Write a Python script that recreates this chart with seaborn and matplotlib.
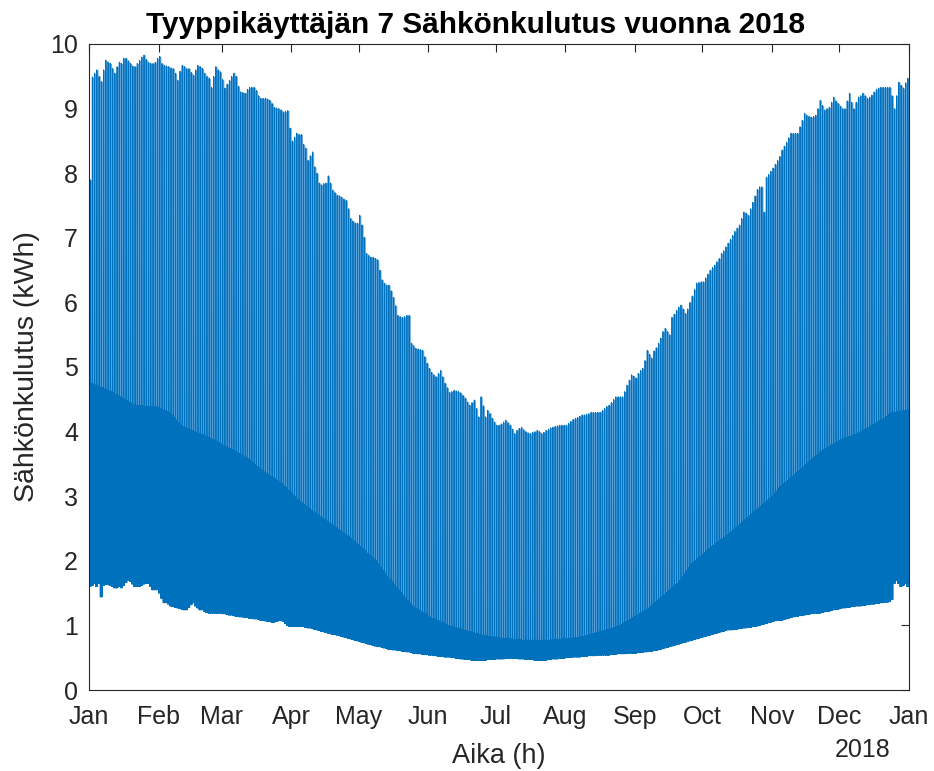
import numpy as np
import pandas as pd
import matplotlib
matplotlib.use("Agg")
import matplotlib.pyplot as plt
import seaborn as sns

# ---- data (daily levels, kWh) ----
# daily maximum (upper envelope of the spikes)
daily_peak = [
    7.9, 9.49, 9.55, 9.6, 9.5, 9.42, 9.6,
    9.75, 9.72, 9.7, 9.62, 9.55, 9.65, 9.72,
    9.7, 9.78, 9.78, 9.74, 9.7, 9.66, 9.65,
    9.7, 9.75, 9.8, 9.83, 9.76, 9.72, 9.7,
    9.7, 9.72, 9.78, 9.81, 9.7, 9.67, 9.66,
    9.65, 9.63, 9.62, 9.55, 9.44, 9.58, 9.67,
    9.65, 9.62, 9.62, 9.56, 9.52, 9.6, 9.67,
    9.65, 9.62, 9.55, 9.5, 9.47, 9.33, 9.5,
    9.65, 9.6, 9.57, 9.45, 9.32, 9.38, 9.44,
    9.5, 9.55, 9.5, 9.35, 9.26, 9.25, 9.24,
    9.3, 9.33, 9.33, 9.33, 9.28, 9.2, 9.16,
    9.16, 9.16, 9.15, 9.13, 9.08, 9.02, 9.01,
    9.0, 8.98, 8.95, 8.96, 8.97, 8.7, 8.5,
    8.56, 8.62, 8.6, 8.6, 8.45, 8.39, 8.2,
    8.27, 8.33, 8.1, 8.0, 7.85, 7.82, 7.84,
    7.85, 7.96, 7.85, 7.74, 7.7, 7.66, 7.65,
    7.63, 7.6, 7.58, 7.45, 7.3, 7.26, 7.23,
    7.23, 7.35, 7.2, 7.01, 6.76, 6.73, 6.7,
    6.7, 6.68, 6.66, 6.5, 6.35, 6.3, 6.27,
    6.27, 6.18, 6.08, 5.95, 5.8, 5.78, 5.77,
    5.78, 5.8, 5.8, 5.37, 5.33, 5.29, 5.28,
    5.27, 5.26, 5.16, 5.06, 4.98, 4.92, 4.88,
    4.85, 4.9, 4.95, 4.85, 4.75, 4.68, 4.61,
    4.62, 4.64, 4.63, 4.62, 4.6, 4.56, 4.52,
    4.46, 4.41, 4.45, 4.49, 4.36, 4.23, 4.54,
    4.4, 4.23, 4.33, 4.28, 4.21, 4.15, 4.1,
    4.1, 4.12, 4.15, 4.18, 4.14, 4.1, 4.04,
    3.97, 4.02, 4.05, 4.07, 4.03, 4.0, 3.98,
    3.97, 3.99, 4.0, 4.02, 4.0, 3.97, 3.99,
    4.02, 4.04, 4.06, 4.07, 4.08, 4.09, 4.1,
    4.1, 4.1, 4.1, 4.13, 4.16, 4.19, 4.21,
    4.22, 4.24, 4.26, 4.26, 4.27, 4.28, 4.3,
    4.3, 4.3, 4.3, 4.3, 4.33, 4.36, 4.39,
    4.41, 4.45, 4.5, 4.54, 4.54, 4.54, 4.54,
    4.62, 4.72, 4.8, 4.88, 4.86, 4.83, 4.9,
    4.95, 4.98, 5.1, 5.26, 5.2, 5.14, 5.25,
    5.3, 5.37, 5.45, 5.55, 5.6, 5.55, 5.5,
    5.77, 5.82, 5.88, 5.93, 5.96, 5.9, 5.83,
    5.9, 6.0, 6.1, 6.2, 6.3, 6.31, 6.32,
    6.32, 6.38, 6.44, 6.5, 6.54, 6.58, 6.63,
    6.68, 6.76, 6.8, 6.86, 6.92, 6.98, 7.04,
    7.1, 7.15, 7.2, 7.3, 7.4, 7.38, 7.35,
    7.45, 7.55, 7.65, 7.75, 7.79, 7.79, 7.4,
    7.94, 7.98, 8.03, 8.08, 8.14, 8.2, 8.26,
    8.36, 8.42, 8.48, 8.55, 8.62, 8.62, 8.62,
    8.62, 8.72, 8.82, 8.93, 8.9, 8.88, 8.87,
    8.88, 8.9, 9.0, 9.13, 9.05, 8.98, 9.0,
    9.02, 9.1, 9.18, 9.12, 9.08, 9.04, 9.0,
    9.0, 9.12, 9.24, 9.1, 9.0, 9.1, 9.18,
    9.2, 9.24, 9.2, 9.16, 9.18, 9.21, 9.26,
    9.3, 9.32, 9.33, 9.33, 9.33, 9.33, 9.33,
    9.2, 9.0, 9.2, 9.41, 9.36, 9.32, 9.4,
    9.47,
]

# typical daytime level (top of the dense band)
daily_base = [
    4.75, 4.74, 4.72, 4.71, 4.69, 4.68, 4.66,
    4.65, 4.63, 4.62, 4.6, 4.58, 4.56, 4.54,
    4.52, 4.5, 4.48, 4.46, 4.44, 4.42, 4.4,
    4.4, 4.4, 4.4, 4.39, 4.39, 4.39, 4.39,
    4.38, 4.38, 4.38, 4.36, 4.34, 4.33, 4.31,
    4.3, 4.26, 4.22, 4.18, 4.14, 4.1, 4.08,
    4.07, 4.05, 4.04, 4.02, 4.0, 3.99, 3.97,
    3.96, 3.95, 3.93, 3.92, 3.9, 3.88, 3.87,
    3.85, 3.83, 3.81, 3.79, 3.77, 3.75, 3.74,
    3.72, 3.7, 3.68, 3.66, 3.64, 3.62, 3.6,
    3.58, 3.55, 3.52, 3.49, 3.46, 3.44, 3.41,
    3.38, 3.36, 3.34, 3.31, 3.29, 3.27, 3.24,
    3.22, 3.2, 3.16, 3.13, 3.09, 3.06, 3.02,
    2.99, 2.95, 2.92, 2.9, 2.87, 2.84, 2.82,
    2.79, 2.76, 2.74, 2.72, 2.69, 2.67, 2.64,
    2.62, 2.59, 2.57, 2.54, 2.52, 2.49, 2.47,
    2.44, 2.42, 2.39, 2.37, 2.34, 2.31, 2.28,
    2.25, 2.22, 2.19, 2.16, 2.12, 2.09, 2.06,
    2.03, 2.0, 1.95, 1.9, 1.85, 1.81, 1.76,
    1.72, 1.68, 1.64, 1.59, 1.55, 1.51, 1.47,
    1.43, 1.39, 1.35, 1.31, 1.28, 1.26, 1.24,
    1.22, 1.2, 1.18, 1.15, 1.13, 1.11, 1.1,
    1.08, 1.07, 1.05, 1.04, 1.02, 1.0, 0.99,
    0.98, 0.97, 0.96, 0.95, 0.94, 0.93, 0.92,
    0.91, 0.9, 0.89, 0.88, 0.87, 0.86, 0.85,
    0.84, 0.84, 0.83, 0.83, 0.82, 0.82, 0.81,
    0.81, 0.8, 0.8, 0.8, 0.79, 0.79, 0.78,
    0.78, 0.78, 0.78, 0.77, 0.77, 0.77, 0.77,
    0.77, 0.77, 0.77, 0.77, 0.77, 0.77, 0.77,
    0.77, 0.77, 0.77, 0.78, 0.78, 0.78, 0.78,
    0.79, 0.79, 0.79, 0.8, 0.8, 0.8, 0.81,
    0.81, 0.82, 0.82, 0.83, 0.84, 0.85, 0.86,
    0.87, 0.88, 0.89, 0.9, 0.91, 0.92, 0.93,
    0.94, 0.95, 0.96, 0.97, 0.99, 1.0, 1.02,
    1.04, 1.06, 1.08, 1.1, 1.12, 1.14, 1.16,
    1.18, 1.2, 1.22, 1.24, 1.27, 1.3, 1.33,
    1.36, 1.39, 1.42, 1.45, 1.48, 1.51, 1.54,
    1.57, 1.6, 1.63, 1.65, 1.7, 1.75, 1.8,
    1.85, 1.9, 1.95, 1.98, 2.01, 2.04, 2.07,
    2.1, 2.13, 2.16, 2.19, 2.22, 2.24, 2.27,
    2.3, 2.33, 2.35, 2.37, 2.4, 2.43, 2.46,
    2.49, 2.52, 2.55, 2.58, 2.61, 2.64, 2.67,
    2.7, 2.73, 2.76, 2.79, 2.82, 2.85, 2.88,
    2.91, 2.94, 2.97, 3.0, 3.04, 3.08, 3.13,
    3.16, 3.19, 3.22, 3.25, 3.28, 3.31, 3.34,
    3.37, 3.4, 3.43, 3.46, 3.49, 3.52, 3.55,
    3.58, 3.61, 3.64, 3.67, 3.7, 3.72, 3.74,
    3.76, 3.78, 3.8, 3.82, 3.84, 3.86, 3.88,
    3.9, 3.91, 3.92, 3.93, 3.94, 3.96, 3.97,
    3.99, 4.01, 4.03, 4.05, 4.07, 4.09, 4.11,
    4.13, 4.15, 4.17, 4.19, 4.21, 4.24, 4.27,
    4.29, 4.3, 4.3, 4.31, 4.31, 4.32, 4.32,
    4.33,
]

# daily minimum (lower envelope)
daily_min = [
    1.6, 1.62, 1.65, 1.6, 1.65, 1.44, 1.62,
    1.63, 1.63, 1.62, 1.6, 1.58, 1.58, 1.6,
    1.58, 1.62, 1.66, 1.7, 1.68, 1.64, 1.6,
    1.6, 1.6, 1.62, 1.64, 1.65, 1.65, 1.6,
    1.55, 1.55, 1.55, 1.5, 1.42, 1.35, 1.35,
    1.33, 1.3, 1.29, 1.28, 1.27, 1.26, 1.25,
    1.24, 1.24, 1.28, 1.32, 1.35, 1.3, 1.27,
    1.24, 1.24, 1.22, 1.2, 1.19, 1.19, 1.19,
    1.19, 1.19, 1.19, 1.18, 1.18, 1.17, 1.16,
    1.16, 1.15, 1.14, 1.14, 1.13, 1.13, 1.12,
    1.12, 1.11, 1.11, 1.1, 1.1, 1.09, 1.08,
    1.08, 1.07, 1.06, 1.06, 1.05, 1.05, 1.06,
    1.07, 1.08, 1.06, 1.03, 1.0, 0.98, 0.98,
    0.98, 0.98, 0.98, 0.98, 0.98, 0.97, 0.96,
    0.96, 0.95, 0.94, 0.93, 0.92, 0.91, 0.9,
    0.89, 0.88, 0.87, 0.86, 0.86, 0.85, 0.84,
    0.83, 0.82, 0.81, 0.8, 0.79, 0.78, 0.77,
    0.76, 0.75, 0.74, 0.73, 0.72, 0.71, 0.7,
    0.69, 0.68, 0.67, 0.67, 0.66, 0.65, 0.64,
    0.63, 0.63, 0.62, 0.62, 0.61, 0.61, 0.6,
    0.6, 0.59, 0.59, 0.58, 0.57, 0.57, 0.56,
    0.56, 0.55, 0.55, 0.55, 0.54, 0.54, 0.53,
    0.53, 0.52, 0.52, 0.52, 0.51, 0.51, 0.51,
    0.5, 0.5, 0.49, 0.49, 0.48, 0.48, 0.47,
    0.47, 0.47, 0.46, 0.46, 0.46, 0.46, 0.46,
    0.46, 0.46, 0.47, 0.47, 0.47, 0.47, 0.48,
    0.48, 0.48, 0.48, 0.49, 0.49, 0.49, 0.49,
    0.49, 0.49, 0.48, 0.48, 0.48, 0.47, 0.47,
    0.47, 0.47, 0.46, 0.46, 0.46, 0.46, 0.46,
    0.46, 0.47, 0.47, 0.48, 0.48, 0.48, 0.49,
    0.49, 0.49, 0.5, 0.5, 0.5, 0.51, 0.51,
    0.51, 0.51, 0.52, 0.52, 0.52, 0.53, 0.53,
    0.53, 0.53, 0.54, 0.54, 0.54, 0.54, 0.54,
    0.54, 0.55, 0.55, 0.55, 0.56, 0.56, 0.56,
    0.56, 0.57, 0.57, 0.57, 0.57, 0.57, 0.58,
    0.58, 0.58, 0.59, 0.59, 0.6, 0.6, 0.61,
    0.61, 0.62, 0.63, 0.64, 0.65, 0.66, 0.67,
    0.68, 0.69, 0.7, 0.71, 0.72, 0.73, 0.74,
    0.75, 0.76, 0.77, 0.78, 0.79, 0.8, 0.81,
    0.82, 0.83, 0.84, 0.85, 0.86, 0.87, 0.88,
    0.89, 0.9, 0.91, 0.92, 0.93, 0.93, 0.93,
    0.94, 0.94, 0.95, 0.95, 0.96, 0.96, 0.97,
    0.97, 0.98, 0.98, 0.99, 1.0, 1.01, 1.02,
    1.03, 1.04, 1.05, 1.06, 1.07, 1.08, 1.08,
    1.08, 1.09, 1.1, 1.11, 1.12, 1.13, 1.14,
    1.14, 1.15, 1.15, 1.16, 1.17, 1.17, 1.18,
    1.18, 1.19, 1.19, 1.19, 1.2, 1.21, 1.22,
    1.22, 1.23, 1.24, 1.25, 1.25, 1.26, 1.27,
    1.27, 1.28, 1.28, 1.29, 1.29, 1.3, 1.3,
    1.3, 1.31, 1.31, 1.32, 1.32, 1.33, 1.33,
    1.34, 1.34, 1.35, 1.35, 1.36, 1.36, 1.37,
    1.4, 1.65, 1.7, 1.65, 1.6, 1.62, 1.65,
    1.6,
]

month_labels = ["Jan", "Feb", "Mar", "Apr", "May", "Jun", "Jul",
                "Aug", "Sep", "Oct", "Nov", "Dec", "Jan"]
year_label = "2018"
title_text = "Tyyppikäyttäjän 7 Sähkönkulutus vuonna 2018"
x_label = "Aika (h)"
y_label = "Sähkönkulutus (kWh)"

# order in which the daily levels are visited within one day
day_sequence = ["min", "base", "min", "base", "min", "base",
                "peak", "base", "min", "base", "min", "base"]

levels = {"peak": daily_peak, "base": daily_base, "min": daily_min}
start = pd.Timestamp("2018-01-01")
times, values = [], []
n_steps = len(day_sequence)
for d in range(len(daily_peak)):
    for k, lvl in enumerate(day_sequence):
        times.append(start + pd.Timedelta(days=d + k / n_steps))
        values.append(levels[lvl][d])
df = pd.DataFrame({"Aika": times, "kWh": values})

# daily table for the lighter spike zone between base level and daily peak
day_start = pd.date_range("2018-01-01", periods=len(daily_peak) + 1, freq="D")
zone_low = list(daily_base) + [daily_base[-1]]
zone_high = list(daily_peak) + [daily_peak[-1]]

# ---- plotting ----
sns.set_style("white")
plt.rcParams["font.family"] = ["Liberation Sans", "DejaVu Sans"]
text_col = "#262626"

fig = plt.figure(figsize=(9.34, 7.71), dpi=100)
ax = fig.add_axes([89 / 934, 81 / 771, 820 / 934, 646 / 771])

ax.fill_between(day_start, zone_low, zone_high, step="post",
                color="#5AA3DB", linewidth=0, zorder=1)
sns.lineplot(data=df, x="Aika", y="kWh", ax=ax, color="#0072BD",
             linewidth=0.6, estimator=None, sort=False, zorder=2)

month_starts = pd.date_range("2018-01-01", "2019-01-01", freq="MS")
ax.set_xlim(month_starts[0], month_starts[-1])
ax.set_xticks(month_starts)
ax.set_xticklabels(month_labels)
ax.set_ylim(0, 10)
ax.set_yticks(range(0, 11))

ax.tick_params(axis="both", which="major", direction="in", length=6,
               width=0.8, colors=text_col, labelsize=18, top=True, right=True)
ax.tick_params(axis="x", pad=11)
ax.tick_params(axis="y", pad=8)
for sp in ax.spines.values():
    sp.set_color(text_col)
    sp.set_linewidth(0.8)
    sp.set_visible(True)
    sp.set_zorder(3)

ax.set_xlabel(x_label, fontsize=19.5, color=text_col, labelpad=10)
ax.set_ylabel(y_label, fontsize=20.5, color=text_col, labelpad=7)
ax.set_title(title_text, fontsize=21.4, fontweight="bold", color="black",
             pad=8, x=0.471)
ax.text(0.943, -0.093, year_label, transform=ax.transAxes, ha="center",
        va="center", fontsize=18, color=text_col)

fig.savefig("out.png", dpi=100)
